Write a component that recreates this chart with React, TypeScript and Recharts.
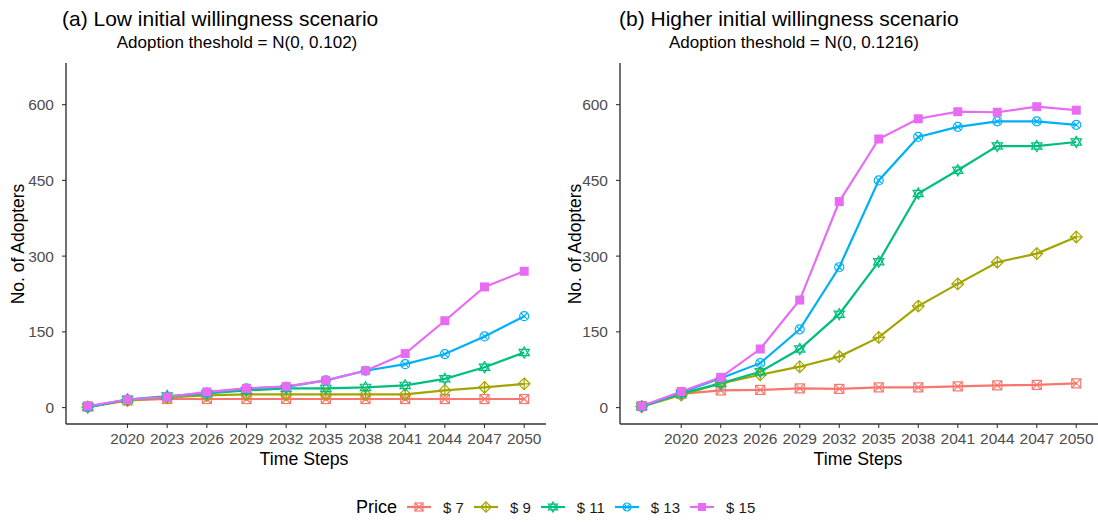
import React from 'react';
import { LineChart, Line, XAxis, YAxis } from 'recharts';

// Simulation years (first point is the initial state)
const YEARS = [2017, 2020, 2023, 2026, 2029, 2032, 2035, 2038, 2041, 2044, 2047, 2050];
const X_TICKS = [2020, 2023, 2026, 2029, 2032, 2035, 2038, 2041, 2044, 2047, 2050];
const Y_TICKS = [0, 150, 300, 450, 600];

const PRICE_LABELS = ['$ 7', '$ 9', '$ 11', '$ 13', '$ 15'];
const PRICE_KEYS = ['p7', 'p9', 'p11', 'p13', 'p15'];
const PRICE_COLORS = ['#F8766D', '#A3A500', '#00BF7D', '#00B0F6', '#E76BF3'];
const PRICE_SHAPES = ['boxcross', 'diamondplus', 'star', 'circlecross', 'square'];

// (a) Low initial willingness scenario
const low7 = [2, 14, 17, 17, 17, 17, 17, 17, 17, 17, 17, 17];
const low9 = [1, 14, 20, 24, 26, 26, 26, 26, 26, 34, 40, 47];
const low11 = [1, 16, 23, 28, 34, 38, 38, 40, 44, 57, 80, 109];
const low13 = [1, 16, 21, 29, 38, 41, 54, 73, 86, 106, 141, 181];
const low15 = [3, 16, 21, 31, 38, 42, 54, 73, 107, 172, 239, 270];

// (b) Higher initial willingness scenario
const high7 = [3, 27, 34, 35, 38, 37, 40, 40, 42, 44, 45, 48];
const high9 = [2, 25, 48, 65, 81, 101, 139, 201, 245, 288, 305, 338];
const high11 = [2, 28, 48, 71, 116, 185, 289, 424, 470, 518, 518, 526];
const high13 = [2, 30, 58, 88, 155, 278, 450, 536, 556, 567, 567, 560];
const high15 = [3, 32, 60, 116, 213, 408, 532, 572, 586, 585, 596, 589];

const buildRows = (series: number[][]) =>
  YEARS.map((year, i) => {
    const row: Record<string, number> = { year };
    PRICE_KEYS.forEach((k, s) => {
      row[k] = series[s][i];
    });
    return row;
  });

const lowRows = buildRows([low7, low9, low11, low13, low15]);
const highRows = buildRows([high7, high9, high11, high13, high15]);

const FONT = '"Liberation Sans", Arial, sans-serif';
const AXIS_COLOR = '#333333';
const TICK_TEXT = '#4D4D4D';

function MarkerShape({ shape, color, cx, cy, r = 4.5 }: { shape: string; color: string; cx: number; cy: number; r?: number }) {
  const sw = 1.2;
  if (shape === 'boxcross') {
    return (
      <g>
        <rect x={cx - r} y={cy - r} width={2 * r} height={2 * r} fill="none" stroke={color} strokeWidth={sw} />
        <line x1={cx - r} y1={cy - r} x2={cx + r} y2={cy + r} stroke={color} strokeWidth={sw} />
        <line x1={cx - r} y1={cy + r} x2={cx + r} y2={cy - r} stroke={color} strokeWidth={sw} />
      </g>
    );
  }
  if (shape === 'diamondplus') {
    const d = r * 1.3;
    return (
      <g>
        <polygon points={`${cx},${cy - d} ${cx + d},${cy} ${cx},${cy + d} ${cx - d},${cy}`} fill="none" stroke={color} strokeWidth={sw} />
        <line x1={cx} y1={cy - d} x2={cx} y2={cy + d} stroke={color} strokeWidth={sw} />
        <line x1={cx - d} y1={cy} x2={cx + d} y2={cy} stroke={color} strokeWidth={sw} />
      </g>
    );
  }
  if (shape === 'star') {
    const h = r * 1.25;
    const w = r * 1.15;
    const b = r * 0.7;
    return (
      <g>
        <polygon points={`${cx},${cy - h} ${cx + w},${cy + b} ${cx - w},${cy + b}`} fill="none" stroke={color} strokeWidth={sw} />
        <polygon points={`${cx},${cy + h} ${cx + w},${cy - b} ${cx - w},${cy - b}`} fill="none" stroke={color} strokeWidth={sw} />
      </g>
    );
  }
  if (shape === 'circlecross') {
    const q = r * 0.72;
    return (
      <g>
        <circle cx={cx} cy={cy} r={r} fill="none" stroke={color} strokeWidth={sw} />
        <line x1={cx - q} y1={cy - q} x2={cx + q} y2={cy + q} stroke={color} strokeWidth={sw} />
        <line x1={cx - q} y1={cy + q} x2={cx + q} y2={cy - q} stroke={color} strokeWidth={sw} />
      </g>
    );
  }
  return <rect x={cx - r} y={cy - r} width={2 * r} height={2 * r} fill={color} stroke="none" />;
}

const makeDot = (shape: string, color: string, name: string) => (props: any) => {
  const { cx, cy, index } = props;
  if (cx == null || cy == null) return <g key={`${name}-${index}`} />;
  return (
    <g key={`${name}-${index}`}>
      <MarkerShape shape={shape} color={color} cx={cx} cy={cy} />
    </g>
  );
};

function Panel({ rows, width, marginLeft, marginRight }: { rows: any[]; width: number; marginLeft: number; marginRight: number }) {
  return (
    <LineChart
      width={width}
      height={470}
      data={rows}
      margin={{ top: 63, right: marginRight, bottom: 16, left: marginLeft }}
    >
      <XAxis
        dataKey="year"
        type="number"
        domain={[2015.35, 2051.65]}
        ticks={X_TICKS}
        allowDataOverflow
        height={30}
        tickSize={4}
        tickMargin={5}
        axisLine={{ stroke: AXIS_COLOR, strokeWidth: 1.4 }}
        tickLine={{ stroke: AXIS_COLOR, strokeWidth: 1.1 }}
        tick={{ fill: TICK_TEXT, fontSize: 15.5, fontFamily: FONT }}
        interval={0}
      />
      <YAxis
        type="number"
        domain={[-32.5, 682.5]}
        ticks={Y_TICKS}
        allowDataOverflow
        width={50}
        tickSize={4}
        tickMargin={8}
        axisLine={{ stroke: AXIS_COLOR, strokeWidth: 1.4 }}
        tickLine={{ stroke: AXIS_COLOR, strokeWidth: 1.1 }}
        tick={{ fill: TICK_TEXT, fontSize: 15.5, fontFamily: FONT }}
        interval={0}
      />
      {PRICE_KEYS.map((k, i) => (
        <Line
          key={k}
          dataKey={k}
          type="linear"
          stroke={PRICE_COLORS[i]}
          strokeWidth={2.2}
          dot={makeDot(PRICE_SHAPES[i], PRICE_COLORS[i], k)}
          activeDot={false}
          isAnimationActive={false}
        />
      ))}
    </LineChart>
  );
}

const textBase: React.CSSProperties = {
  position: 'absolute',
  fontFamily: FONT,
  color: '#000',
  whiteSpace: 'nowrap',
  lineHeight: 1,
};

function PanelTexts({ offset, title, subtitle, subtitleCenter }: { offset: number; title: string; subtitle: string; subtitleCenter: number }) {
  return (
    <>
      <div style={{ ...textBase, left: offset + 62, top: 8, fontSize: 21 }}>{title}</div>
      <div style={{ ...textBase, left: offset + subtitleCenter, top: 34, fontSize: 17, transform: 'translateX(-50%)' }}>{subtitle}</div>
      <div
        style={{
          ...textBase,
          left: offset + 19,
          top: 244,
          fontSize: 17.5,
          transform: 'translate(-50%, -50%) rotate(-90deg)',
        }}
      >
        No. of Adopters
      </div>
    </>
  );
}

export default function App() {
  return (
    <div style={{ position: 'absolute', left: 0, top: 0, width: 1098, height: 522, background: '#fff', overflow: 'hidden' }}>
      <div style={{ position: 'absolute', left: 0, top: 0 }}>
        <Panel rows={lowRows} width={560} marginLeft={16} marginRight={14} />
      </div>
      <div style={{ position: 'absolute', left: 557, top: 0 }}>
        <Panel rows={highRows} width={541} marginLeft={13} marginRight={0} />
      </div>

      <PanelTexts offset={0} title="(a) Low initial willingness scenario" subtitle="Adoption theshold = N(0, 0.102)" subtitleCenter={237} />
      <PanelTexts offset={557} title="(b) Higher initial willingness scenario" subtitle="Adoption theshold = N(0, 0.1216)" subtitleCenter={237} />

      <div style={{ ...textBase, left: 304, top: 451, fontSize: 17.7, transform: 'translateX(-50%)' }}>Time Steps</div>
      <div style={{ ...textBase, left: 858, top: 451, fontSize: 17.7, transform: 'translateX(-50%)' }}>Time Steps</div>

      {/* Legend */}
      <div style={{ position: 'absolute', left: 356, top: 498, display: 'flex', alignItems: 'center', fontFamily: FONT }}>
        <span style={{ fontSize: 18, lineHeight: 1, marginRight: 10 }}>Price</span>
        {PRICE_LABELS.map((label, i) => (
          <div key={label} style={{ display: 'flex', alignItems: 'center', marginRight: 10 }}>
            <svg width={24} height={18} style={{ display: 'block' }}>
              <line x1={0} y1={9} x2={24} y2={9} stroke={PRICE_COLORS[i]} strokeWidth={2.2} />
              <MarkerShape shape={PRICE_SHAPES[i]} color={PRICE_COLORS[i]} cx={12} cy={9} r={4} />
            </svg>
            <span style={{ fontSize: 15, lineHeight: 1, marginLeft: 12, color: '#1a1a1a' }}>{label}</span>
          </div>
        ))}
      </div>
    </div>
  );
}
